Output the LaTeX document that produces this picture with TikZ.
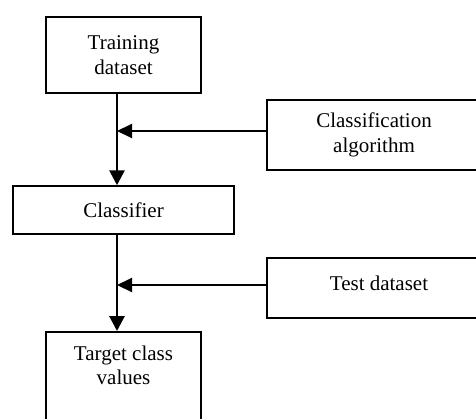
\documentclass[tikz,border=0pt]{standalone}
\usepackage{fontspec}
\setmainfont{Liberation Serif}
\usetikzlibrary{arrows.meta}
\begin{document}
\begin{tikzpicture}[x=1pt,y=-1pt,
  box/.style={draw, line width=1.5pt, rectangle, align=center, inner sep=0pt,
    font=\fontsize{21}{24.5}\selectfont},
  vline/.style={line width=2.8pt, -{Triangle[length=15pt,width=15pt]}},
  hline/.style={line width=2pt, -{Triangle[length=15pt,width=14pt]}}]
\useasboundingbox (0,0) rectangle (476,418);
\clip (0,0) rectangle (476,418);
\node[box, minimum width=155pt, minimum height=76pt] (train) at (123.5,55) {Training\\dataset};
\node[box, minimum width=214pt, minimum height=70pt] (algo) at (374,135) {Classification\\algorithm};
\node[box, minimum width=221pt, minimum height=48pt] (clf) at (123.5,210) {Classifier};
\node[box, minimum width=224pt, minimum height=60pt, text depth=10pt] (test) at (379,288) {Test dataset};
\node[box, anchor=north, minimum width=155pt, inner ysep=14pt] (tgt) at (123.5,331) {Target class\\values\\~\\~};
\coordinate (axis) at (117,0);
\coordinate (j1) at (117,131);
\coordinate (j2) at (117,285);
\draw[vline] (train.south -| axis) -- (clf.north -| axis);
\draw[vline] (clf.south -| axis) -- (tgt.north -| axis);
\draw[hline] (algo.west |- j1) -- (j1);
\draw[hline] (test.west |- j2) -- (j2);
\end{tikzpicture}
\end{document}
